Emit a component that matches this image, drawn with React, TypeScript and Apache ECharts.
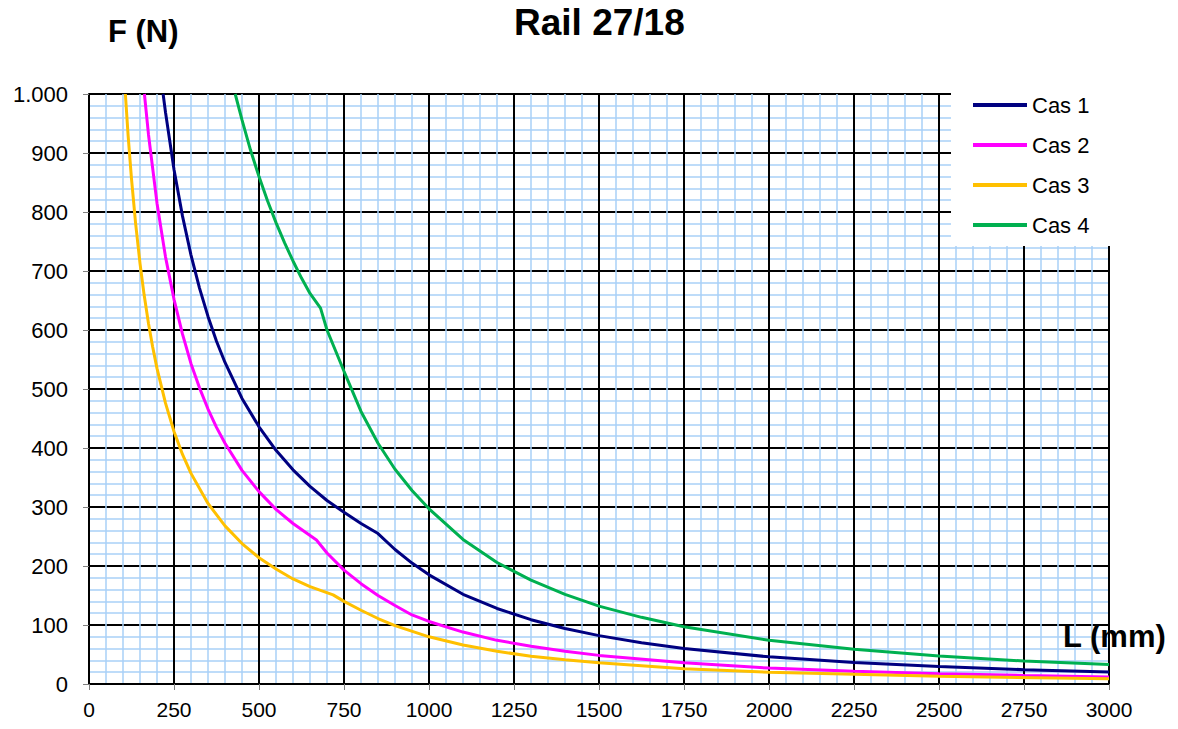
import React, { useEffect, useRef } from "react";
import * as echarts from "echarts";

const titleText = "Rail 27/18";
const yAxisName = "F (N)";
const xAxisName = "L (mm)";
const seriesNames = ["Cas 1", "Cas 2", "Cas 3", "Cas 4"];
const seriesColors = ["#000080", "#ff00ff", "#ffc000", "#00b050"];

const cas1L = [218, 225, 250, 275, 300, 325, 350, 375, 400, 450, 500, 550, 600, 650, 700, 750, 800, 850, 900, 950, 1000, 1100, 1200, 1300, 1400, 1500, 1625, 1750, 2000, 2250, 2500, 2750, 3000];
const cas1F = [1000, 969, 872, 793, 727, 671, 623, 581, 545, 484, 436, 396, 363, 335, 311, 291, 272, 255, 228, 205, 185, 152, 128, 109, 94, 82, 70, 60, 46, 36.5, 29.5, 24.3, 20.5];

const cas2L = [163, 175, 200, 225, 250, 275, 300, 325, 350, 375, 400, 450, 500, 550, 600, 669, 700, 750, 800, 850, 900, 950, 1000, 1100, 1200, 1300, 1400, 1500, 1750, 2000, 2250, 2500, 2750, 3000];
const cas2F = [1000, 931, 815, 724, 652, 593, 543, 502, 466, 435, 408, 362, 326, 296, 272, 244, 222, 193, 170, 150, 133, 117, 106, 88, 74, 64, 55.5, 48.5, 36, 27, 21.5, 17.5, 14.5, 12];

const cas3L = [107, 115, 125, 137, 150, 162, 175, 187, 200, 225, 250, 275, 300, 350, 400, 450, 500, 550, 600, 650, 718, 750, 800, 850, 900, 1000, 1100, 1200, 1300, 1400, 1500, 1750, 2000, 2500, 3000];
const cas3F = [1000, 930, 856, 781, 713, 660, 611, 572, 535, 476, 428, 389, 357, 306, 268, 238, 214, 195, 178, 165, 151, 140, 125, 111, 99, 80, 66, 55.5, 47, 41, 36, 26, 20, 13, 9];

const cas4L = [430, 450, 475, 500, 525, 550, 575, 600, 625, 650, 681, 700, 750, 800, 850, 900, 950, 1000, 1100, 1200, 1300, 1400, 1500, 1625, 1750, 2000, 2250, 2500, 2750, 3000];
const cas4F = [1000, 956, 905, 860, 819, 782, 748, 717, 688, 662, 637, 600, 530, 462, 408, 364, 328, 297, 245, 206, 176, 152, 132, 113, 97, 74, 59, 47.5, 39, 33];

const allL = [cas1L, cas2L, cas3L, cas4L];
const allF = [cas1F, cas2F, cas3F, cas4F];

const FONT = "'Liberation Sans', Arial, sans-serif";

export default function App() {
  const ref = useRef<HTMLDivElement>(null);
  useEffect(() => {
    if (!ref.current) return;
    const chart = echarts.init(ref.current, null, { renderer: "svg" });
    const series = seriesNames.map((name, i) => ({
      name,
      type: "line",
      data: allL[i].map((l, j) => [l, allF[i][j]]),
      symbol: "none",
      smooth: false,
      lineStyle: { color: seriesColors[i], width: 3 },
      itemStyle: { color: seriesColors[i] },
      z: 5,
    }));
    chart.setOption({
      animation: false,
      backgroundColor: "#ffffff",
      textStyle: { fontFamily: FONT },
      grid: { left: 89, right: 69, top: 94, bottom: 45, containLabel: false },
      legend: {
        orient: "vertical",
        left: 951,
        top: 86,
        padding: [8, 30, 10, 22],
        backgroundColor: "#ffffff",
        itemWidth: 54,
        itemHeight: 4,
        itemGap: 18,
        icon: "rect",
        textStyle: { fontSize: 22, color: "#000", fontFamily: FONT },
        data: seriesNames,
        z: 10,
      },
      xAxis: {
        type: "value",
        min: 0,
        max: 3000,
        interval: 250,
        axisLine: { show: true, lineStyle: { color: "#000", width: 2 } },
        axisTick: { show: true, length: 6, lineStyle: { color: "#808080", width: 1 } },
        axisLabel: {
          fontSize: 21,
          color: "#000",
          margin: 15,
          fontFamily: FONT,
          formatter: (v: number) => String(v),
        },
        splitLine: { show: true, lineStyle: { color: "#000", width: 2 } },
        minorTick: { show: false, splitNumber: 5 },
        minorSplitLine: { show: true, lineStyle: { color: "#a9d0f7", width: 1.5 } },
      },
      yAxis: {
        type: "value",
        min: 0,
        max: 1000,
        interval: 100,
        axisLine: { show: true, lineStyle: { color: "#000", width: 2 } },
        axisTick: { show: true, length: 6, lineStyle: { color: "#808080", width: 1 } },
        axisLabel: {
          fontSize: 22,
          color: "#000",
          margin: 21,
          fontFamily: FONT,
          formatter: (v: number) => (v >= 1000 ? "1.000" : String(v)),
        },
        splitLine: { show: true, lineStyle: { color: "#000", width: 2 } },
        minorTick: { show: false, splitNumber: 5 },
        minorSplitLine: { show: true, lineStyle: { color: "#a9d0f7", width: 1.5 } },
      },
      graphic: [
        {
          type: "text",
          x: 514,
          y: 4,
          style: { text: titleText, font: `bold 37px ${FONT}`, fill: "#000" },
        },
        {
          type: "text",
          x: 108,
          y: 16,
          style: { text: yAxisName, font: `bold 31px ${FONT}`, fill: "#000" },
        },
        {
          type: "text",
          x: 1063,
          y: 621,
          z: 20,
          style: { text: xAxisName, font: `bold 31px ${FONT}`, fill: "#000" },
        },
      ],
      series,
    });
    return () => chart.dispose();
  }, []);
  return (
    <div
      ref={ref}
      style={{ position: "absolute", left: 0, top: 0, width: 1178, height: 729 }}
    />
  );
}
